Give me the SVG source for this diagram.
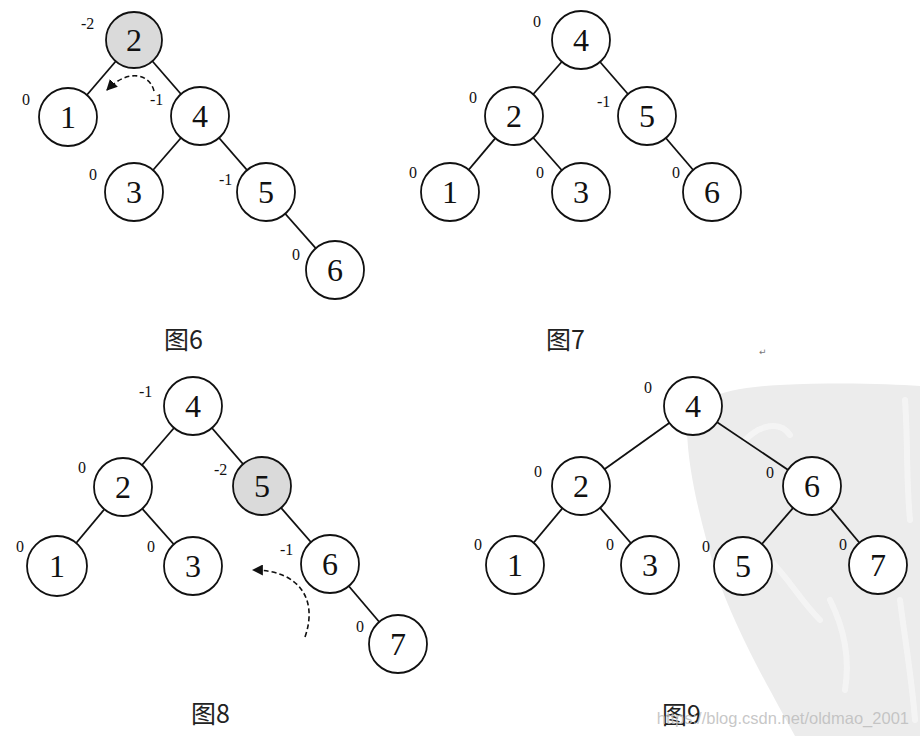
<svg xmlns="http://www.w3.org/2000/svg" width="920" height="736" viewBox="0 0 920 736">
<defs>
<style>
.n circle{fill:#fff;stroke:#111;stroke-width:1.8}
.n.hl circle{fill:#dadada}
.n text{font-family:"Liberation Serif","DejaVu Serif",serif;font-size:32px;fill:#111;text-anchor:middle;dominant-baseline:central}
.bf{font-family:"Liberation Serif","DejaVu Serif",serif;font-size:16px;fill:#111}
.cap{font-family:"Noto Sans CJK SC","Noto Sans",sans-serif;font-size:25px;fill:#222}
.e line{stroke:#111;stroke-width:1.8}
.arc{fill:none;stroke:#111;stroke-width:1.6;stroke-dasharray:5 3}
</style>
<marker id="ah" viewBox="0 0 10 10" refX="9" refY="5" markerWidth="11" markerHeight="11" markerUnits="userSpaceOnUse" orient="auto">
<path d="M0,0 L10,5 L0,10 z" fill="#111"/>
</marker>
</defs>
<rect width="920" height="736" fill="#fff"/>
<!-- background watermark swoosh -->
<path d="M687,430 C690,400 720,388 780,385 C840,382 890,384 920,386 L920,736 L795,736 C770,690 735,630 715,570 C700,520 688,470 687,430 Z" fill="#ececec"/>
<g fill="none" stroke="#f7f7f7" stroke-width="6" stroke-linecap="round" opacity="0.8">
<path d="M745,440 C760,425 780,420 790,435"/>
<path d="M770,560 C790,580 800,600 820,620"/>
<path d="M830,600 C845,630 850,660 845,690"/>
<path d="M905,400 C908,440 906,480 910,520"/>
<path d="M900,600 C905,640 912,680 915,720"/>
</g>
<!-- connectors -->
<g id="connectors" class="e">
<line x1="134" y1="40" x2="68" y2="117"/>
<line x1="134" y1="40" x2="200" y2="116"/>
<line x1="200" y1="116" x2="134" y2="192"/>
<line x1="200" y1="116" x2="266" y2="192"/>
<line x1="266" y1="192" x2="335" y2="270"/>
<line x1="581" y1="40" x2="514" y2="116"/>
<line x1="581" y1="40" x2="647" y2="116"/>
<line x1="514" y1="116" x2="450" y2="192"/>
<line x1="514" y1="116" x2="581" y2="192"/>
<line x1="647" y1="116" x2="712" y2="192"/>
<line x1="193" y1="406" x2="123" y2="487"/>
<line x1="193" y1="406" x2="262" y2="486"/>
<line x1="123" y1="487" x2="57" y2="566"/>
<line x1="123" y1="487" x2="193" y2="566"/>
<line x1="262" y1="486" x2="330" y2="564"/>
<line x1="330" y1="564" x2="398" y2="644"/>
<line x1="693" y1="406" x2="581" y2="486"/>
<line x1="693" y1="406" x2="812" y2="486"/>
<line x1="581" y1="486" x2="515" y2="565"/>
<line x1="581" y1="486" x2="650" y2="565"/>
<line x1="812" y1="486" x2="743" y2="566"/>
<line x1="812" y1="486" x2="878" y2="565"/>
<path class="arc" d="M154,91 C150,74 128,68 107,90" marker-end="url(#ah)"/>
<path class="arc" d="M305,637 C318,600 300,570 253,570" marker-end="url(#ah)"/>
</g>
<!-- Figure 6 -->
<g id="f6-n2" class="n hl"><circle cx="134" cy="40" r="28"/><text x="134" y="40">2</text></g>
<g id="f6-n1" class="n"><circle cx="68" cy="117" r="29"/><text x="68" y="117">1</text></g>
<g id="f6-n4" class="n"><circle cx="200" cy="116" r="29"/><text x="200" y="116">4</text></g>
<g id="f6-n3" class="n"><circle cx="134" cy="192" r="29"/><text x="134" y="192">3</text></g>
<g id="f6-n5" class="n"><circle cx="266" cy="192" r="29"/><text x="266" y="192">5</text></g>
<g id="f6-n6" class="n"><circle cx="335" cy="270" r="29"/><text x="335" y="270">6</text></g>
<g id="f6-bf">
<text class="bf" x="81" y="29">-2</text>
<text class="bf" x="22" y="105">0</text>
<text class="bf" x="150" y="105">-1</text>
<text class="bf" x="89" y="180">0</text>
<text class="bf" x="219" y="185">-1</text>
<text class="bf" x="292" y="260">0</text>
</g>
<text id="cap6" class="cap" x="164" y="349">图6</text>
<!-- Figure 7 -->
<g id="f7-n4" class="n"><circle cx="581" cy="40" r="29"/><text x="581" y="40">4</text></g>
<g id="f7-n2" class="n"><circle cx="514" cy="116" r="29"/><text x="514" y="116">2</text></g>
<g id="f7-n5" class="n"><circle cx="647" cy="116" r="29"/><text x="647" y="116">5</text></g>
<g id="f7-n1" class="n"><circle cx="450" cy="192" r="29"/><text x="450" y="192">1</text></g>
<g id="f7-n3" class="n"><circle cx="581" cy="192" r="29"/><text x="581" y="192">3</text></g>
<g id="f7-n6" class="n"><circle cx="712" cy="192" r="29"/><text x="712" y="192">6</text></g>
<g id="f7-bf">
<text class="bf" x="533" y="27">0</text>
<text class="bf" x="469" y="103">0</text>
<text class="bf" x="597" y="107">-1</text>
<text class="bf" x="409" y="178">0</text>
<text class="bf" x="536" y="178">0</text>
<text class="bf" x="672" y="178">0</text>
</g>
<text id="cap7" class="cap" x="546" y="349">图7</text>
<text id="para" x="759" y="355" font-family="DejaVu Sans,sans-serif" font-size="9" fill="#777">↵</text>
<!-- Figure 8 -->
<g id="f8-n4" class="n"><circle cx="193" cy="406" r="29"/><text x="193" y="406">4</text></g>
<g id="f8-n2" class="n"><circle cx="123" cy="487" r="29"/><text x="123" y="487">2</text></g>
<g id="f8-n5" class="n hl"><circle cx="262" cy="486" r="29"/><text x="262" y="486">5</text></g>
<g id="f8-n1" class="n"><circle cx="57" cy="566" r="30"/><text x="57" y="566">1</text></g>
<g id="f8-n3" class="n"><circle cx="193" cy="566" r="29"/><text x="193" y="566">3</text></g>
<g id="f8-n6" class="n"><circle cx="330" cy="564" r="29"/><text x="330" y="564">6</text></g>
<g id="f8-n7" class="n"><circle cx="398" cy="644" r="29"/><text x="398" y="644">7</text></g>
<g id="f8-bf">
<text class="bf" x="139" y="397">-1</text>
<text class="bf" x="78" y="473">0</text>
<text class="bf" x="214" y="475">-2</text>
<text class="bf" x="16" y="552">0</text>
<text class="bf" x="147" y="552">0</text>
<text class="bf" x="280" y="555">-1</text>
<text class="bf" x="356" y="632">0</text>
</g>
<text id="cap8" class="cap" x="191" y="723">图8</text>
<!-- Figure 9 -->
<g id="f9-n4" class="n"><circle cx="693" cy="406" r="29"/><text x="693" y="406">4</text></g>
<g id="f9-n2" class="n"><circle cx="581" cy="486" r="29"/><text x="581" y="486">2</text></g>
<g id="f9-n6" class="n"><circle cx="812" cy="486" r="29"/><text x="812" y="486">6</text></g>
<g id="f9-n1" class="n"><circle cx="515" cy="565" r="29"/><text x="515" y="565">1</text></g>
<g id="f9-n3" class="n"><circle cx="650" cy="565" r="29"/><text x="650" y="565">3</text></g>
<g id="f9-n5" class="n"><circle cx="743" cy="566" r="29"/><text x="743" y="566">5</text></g>
<g id="f9-n7" class="n"><circle cx="878" cy="565" r="29"/><text x="878" y="565">7</text></g>
<g id="f9-bf">
<text class="bf" x="644" y="393">0</text>
<text class="bf" x="534" y="477">0</text>
<text class="bf" x="766" y="478">0</text>
<text class="bf" x="474" y="550">0</text>
<text class="bf" x="606" y="550">0</text>
<text class="bf" x="702" y="552">0</text>
<text class="bf" x="839" y="550">0</text>
</g>
<text id="cap9" class="cap" x="662" y="724">图9</text>
<text id="wm" x="909" y="724" text-anchor="end" font-family="Liberation Sans,Arial,sans-serif" font-size="16.5" fill="#bdbdbd" fill-opacity="0.85">https://blog.csdn.net/oldmao_2001</text>
</svg>
